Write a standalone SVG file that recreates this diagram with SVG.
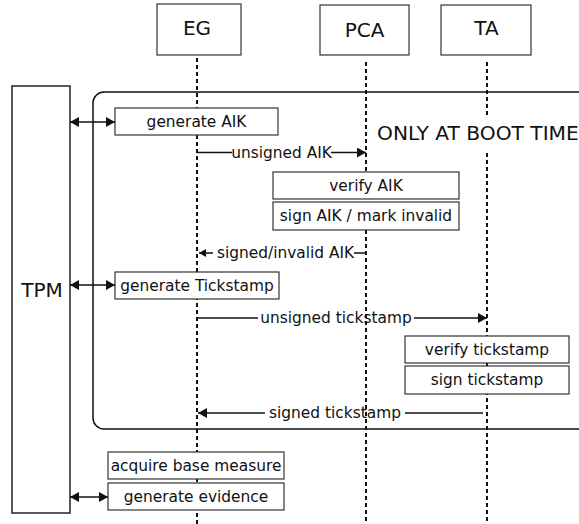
<svg xmlns="http://www.w3.org/2000/svg" width="579" height="524" viewBox="0 0 579 524">
<style>
text{font-family:"DejaVu Sans","Noto Sans",sans-serif;fill:#111;}
.big{font-size:20px;}
.lbl{font-size:15.4px;}
.box{fill:#fff;stroke:#333;stroke-width:1.2;}
.hdr{fill:#fff;stroke:#333;stroke-width:1.2;}
.life{stroke:#111;stroke-width:2;stroke-dasharray:4,3;fill:none;}
.msg{stroke:#111;stroke-width:1.5;fill:none;}
</style>
<defs>
<marker id="ae" markerUnits="userSpaceOnUse" markerWidth="9" markerHeight="10" refX="9" refY="5" orient="auto"><path d="M0,0 L9,5 L0,10 z" fill="#111"/></marker>
<marker id="as" markerUnits="userSpaceOnUse" markerWidth="9" markerHeight="10" refX="0" refY="5" orient="auto"><path d="M9,0 L0,5 L9,10 z" fill="#111"/></marker>
<marker id="aes" markerUnits="userSpaceOnUse" markerWidth="7" markerHeight="8" refX="7" refY="4" orient="auto"><path d="M0,0 L7,4 L0,8 z" fill="#111"/></marker>
</defs>

<g id="boot-frame">
<rect x="93" y="92" width="500" height="337" rx="11" ry="11" fill="#fff" stroke="#111" stroke-width="1.5"/>
</g>

<g id="lifelines">
<line class="life" x1="197" y1="58" x2="197" y2="524"/>
<line class="life" x1="366" y1="62" x2="366" y2="524"/>
<line class="life" x1="487" y1="62" x2="487" y2="524"/>
</g>

<g id="boot-label">
<rect x="374" y="117" width="205" height="35" fill="#fff"/>
<text class="big" x="377" y="140" style="font-size:20.2px">ONLY AT BOOT TIME</text>
</g>

<g id="EG"><rect class="hdr" x="157" y="4" width="84" height="51"/><text class="big" x="197" y="35" text-anchor="middle">EG</text></g>
<g id="PCA"><rect class="hdr" x="320" y="5" width="89" height="50"/><text class="big" x="364.5" y="37" text-anchor="middle">PCA</text></g>
<g id="TA"><rect class="hdr" x="441" y="5" width="90" height="50"/><text class="big" x="486.5" y="35" text-anchor="middle">TA</text></g>

<g id="TPM"><rect x="12" y="86" width="58" height="427" fill="#fff" stroke="#222" stroke-width="1.5"/><text class="big" x="42" y="297" text-anchor="middle">TPM</text></g>

<g id="generate-AIK"><rect class="box" x="115" y="108" width="163" height="27"/><text class="lbl" x="196.5" y="127" text-anchor="middle">generate AIK</text></g>
<g id="verify-AIK"><rect class="box" x="273" y="172" width="186" height="27"/><text class="lbl" x="366" y="191" text-anchor="middle">verify AIK</text></g>
<g id="sign-AIK"><rect class="box" x="273" y="202" width="186" height="28"/><text class="lbl" x="366" y="221" text-anchor="middle">sign AIK / mark invalid</text></g>
<g id="generate-Tickstamp"><rect class="box" x="115" y="272" width="164" height="27"/><text class="lbl" x="197" y="291" text-anchor="middle">generate Tickstamp</text></g>
<g id="verify-tickstamp"><rect class="box" x="405" y="336" width="164" height="27"/><text class="lbl" x="487" y="355" text-anchor="middle">verify tickstamp</text></g>
<g id="sign-tickstamp"><rect class="box" x="405" y="366" width="164" height="28"/><text class="lbl" x="487" y="385" text-anchor="middle">sign tickstamp</text></g>
<g id="acquire-base-measure"><rect class="box" x="108" y="452" width="176" height="27"/><text class="lbl" x="196" y="471" text-anchor="middle">acquire base measure</text></g>
<g id="generate-evidence"><rect class="box" x="108" y="483" width="176" height="27"/><text class="lbl" x="196" y="502" text-anchor="middle">generate evidence</text></g>

<g id="connectors">
<line class="msg" x1="70" y1="122" x2="115" y2="122" marker-start="url(#as)" marker-end="url(#ae)"/>
<line class="msg" x1="70" y1="285" x2="115" y2="285" marker-start="url(#as)" marker-end="url(#ae)"/>
<line class="msg" x1="70" y1="497" x2="108" y2="497" marker-start="url(#as)" marker-end="url(#ae)"/>

<line class="msg" x1="197" y1="152.5" x2="232" y2="152.5"/>
<line class="msg" x1="331" y1="152.5" x2="366" y2="152.5" marker-end="url(#ae)"/>
<text class="lbl" x="281.5" y="157.5" text-anchor="middle">unsigned AIK</text>

<line class="msg" x1="213" y1="253" x2="199" y2="253" marker-end="url(#aes)"/>
<line class="msg" x1="354" y1="253" x2="366" y2="253"/>
<text class="lbl" x="285.5" y="258" text-anchor="middle">signed/invalid AIK</text>

<line class="msg" x1="197" y1="318" x2="258" y2="318"/>
<line class="msg" x1="414" y1="318" x2="487" y2="318" marker-end="url(#ae)"/>
<text class="lbl" x="336" y="323" text-anchor="middle">unsigned tickstamp</text>

<line class="msg" x1="265" y1="413" x2="198" y2="413" marker-end="url(#ae)"/>
<line class="msg" x1="405" y1="413" x2="483" y2="413"/>
<text class="lbl" x="335" y="418" text-anchor="middle">signed tickstamp</text>
</g>
</svg>
